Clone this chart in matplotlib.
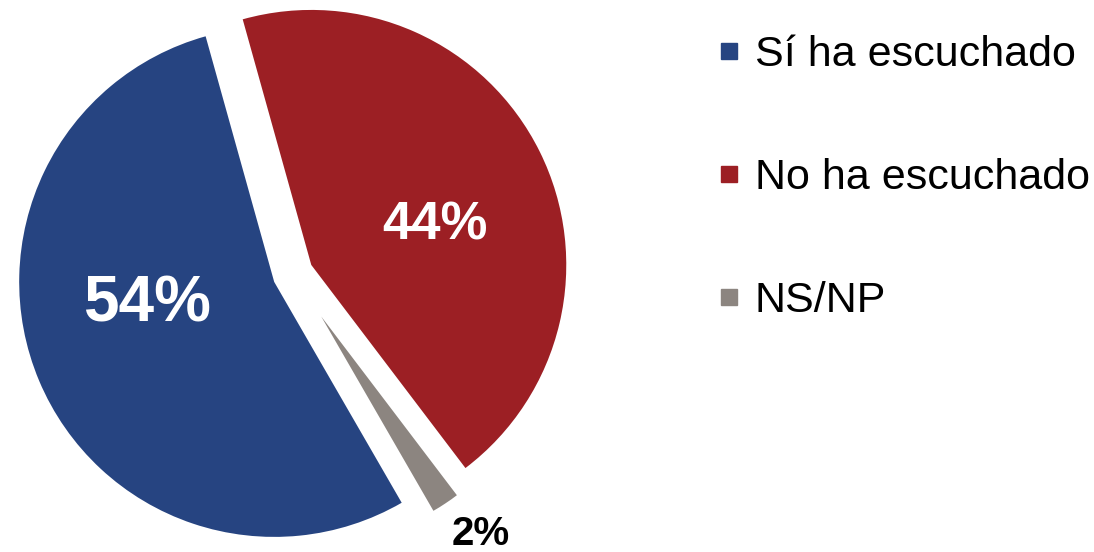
import matplotlib.pyplot as plt
from matplotlib.lines import Line2D

plt.rcParams['font.family'] = ['Liberation Sans', 'DejaVu Sans']

# data
labels = ['Sí ha escuchado', 'No ha escuchado', 'NS/NP']
values = [54, 44, 2]
colors = ['#264481', '#9C1F24', '#8C8580']
explode = [0.08, 0.08, 0.2]
pct_text = ['54%', '44%', '2%']
pct_color = ['white', 'white', 'black']
pct_size = [46, 38, 29]

W, H = 1094, 552
fig = plt.figure(figsize=(W / 100, H / 100), dpi=100)

# pie in its own axes, 255 px per data unit, centre at (293, 274) from top
R = 255.0
cx, cy = 293.0, 278.0
aw = 600
ax = fig.add_axes([0, 0, aw / W, 1])

# counter-clockwise from 105.6 deg: blue, gray, red
order = [0, 2, 1]
wedges, _ = ax.pie([values[i] for i in order],
                   colors=[colors[i] for i in order],
                   explode=[explode[i] for i in order],
                   startangle=105.6, counterclock=True,
                   wedgeprops=dict(linewidth=0))
# the small slice is drawn a bit shorter in the original
wedges[1].set_radius(0.88)
ax.set_xlim(-cx / R, (aw - cx) / R)
ax.set_ylim(-cy / R, (H - cy) / R)
ax.axis('off')

# percentage labels (pixel positions from top-left)
pos = [(147, 305), (435, 226), (481, 534)]
for (px, py), t, c, s in zip(pos, pct_text, pct_color, pct_size):
    ax.text((px - cx) / R, (H - py - cy) / R, t, color=c, fontsize=s,
            fontweight='bold', ha='center', va='center')

handles = [Line2D([], [], marker='s', linestyle='none', markersize=11.5,
                  markerfacecolor=c, markeredgecolor=c) for c in colors]
fig.legend(handles, labels, loc='upper left',
           bbox_to_anchor=(718 / W, 1 - 35 / H), frameon=False,
           fontsize=31, labelspacing=1.93, handlelength=0.5,
           handletextpad=0.35, borderpad=0, borderaxespad=0)

fig.savefig('out.png', dpi=100)
